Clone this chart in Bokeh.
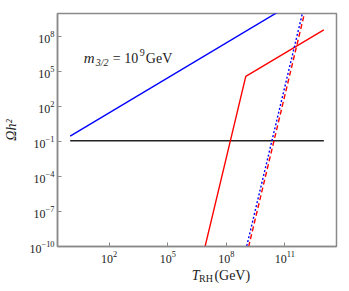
from bokeh.plotting import figure
from bokeh.layouts import column
from bokeh.models import Range1d, FixedTicker, Label, LogTickFormatter
from bokeh.embed import file_html
from bokeh.resources import INLINE

# Data (T_RH in GeV, Omega h^2)
t_relic = [1.0, 1e13]
omega_relic = [0.12, 0.12]

t_blue = [1.0, 1e13]
omega_blue = [0.3, 3e12]

t_red = [1e6, 1e9, 1e13]
omega_red = [4e-17, 4e4, 4e8]

t_blue_dot = [1e8, 1e13]
omega_blue_dot = [5e-18, 5e17]

t_red_dash = [1e8, 1e13]
omega_red_dash = [9e-19, 9e16]

x_ticks = [1e2, 1e5, 1e8, 1e11]
y_ticks = [1e-10, 1e-7, 1e-4, 1e-1, 1e2, 1e5, 1e8]

SERIF = "Liberation Serif"
FRAME = "#8a8a8a"
INK = "#222222"

p = figure(width=345, height=265, x_axis_type="log", y_axis_type="log",
           x_range=Range1d(10 ** -0.65, 10 ** 13.65), y_range=Range1d(1e-10, 1e10),
           output_backend="svg", toolbar_location=None,
           min_border_left=57, min_border_right=9, min_border_top=13, min_border_bottom=17)
p.grid.visible = False
p.outline_line_color = FRAME
p.outline_line_width = 1.5

for ax, ticks in ((p.xaxis, x_ticks), (p.yaxis, y_ticks)):
    ax.ticker = FixedTicker(ticks=ticks, minor_ticks=[])
    ax.formatter = LogTickFormatter()
    ax.axis_line_color = FRAME
    ax.axis_line_width = 1.5
    ax.major_tick_line_color = FRAME
    ax.major_tick_in = 4
    ax.major_tick_out = 0
    ax.minor_tick_in = 0
    ax.minor_tick_out = 0
    ax.major_label_text_font = SERIF
    ax.major_label_text_font_size = "12px"
    ax.major_label_text_color = INK

p.xaxis.axis_label = None
p.xaxis.major_label_standoff = 4
p.yaxis.major_label_standoff = 3
p.yaxis.axis_label = "Ωh²"
p.yaxis.axis_label_text_font = SERIF
p.yaxis.axis_label_text_font_size = "14px"
p.yaxis.axis_label_text_font_style = "italic"
p.yaxis.axis_label_text_color = INK
p.yaxis.axis_label_standoff = 7

p.line(t_relic, omega_relic, line_color=INK, line_width=1.6)
p.line(t_blue, omega_blue, line_color="#0000ff", line_width=1.4)
p.line(t_red, omega_red, line_color="#ff0000", line_width=1.4)
p.line(t_blue_dot, omega_blue_dot, line_color="#0000ff", line_width=1.4, line_dash="2 2")
p.line(t_red_dash, omega_red_dash, line_color="#ff0000", line_width=1.4, line_dash="5 3")

# annotation m_{3/2} = 10^9 GeV
ax0, ay0 = 5.0, 10 ** 6.15
parts = [
    ("m", 0, 0, "15px", "italic"),
    ("3/2", 12, -4, "10px", "italic"),
    ("= 10", 29, 0, "14px", "normal"),
    ("9", 56, 6, "10px", "normal"),
    ("GeV", 62, 0, "14px", "normal"),
]
for txt, dx, dy, fs, style in parts:
    p.add_layout(Label(x=ax0, y=ay0, x_offset=dx, y_offset=dy, text=txt,
                       text_font=SERIF, text_font_size=fs, text_font_style=style,
                       text_color=INK, text_baseline="alphabetic"))

# x axis label: T_RH (GeV), drawn in a strip under the chart
xlab = figure(width=345, height=22, x_range=Range1d(0, 345), y_range=Range1d(0, 22),
              output_backend="svg", toolbar_location=None, min_border=0)
xlab.axis.visible = False
xlab.grid.visible = False
xlab.outline_line_color = None
for txt, sx, sy, fs, style in [("T", 166, 12, "14px", "italic"),
                               ("RH", 175, 9, "10px", "normal"),
                               ("(GeV)", 194, 12, "14px", "normal")]:
    xlab.add_layout(Label(x=sx, y=sy, text=txt, text_font=SERIF, text_font_size=fs,
                          text_font_style=style, text_color=INK,
                          text_baseline="alphabetic"))

layout = column(p, xlab, spacing=0)
open("out.html", "w").write(file_html(layout, INLINE))
